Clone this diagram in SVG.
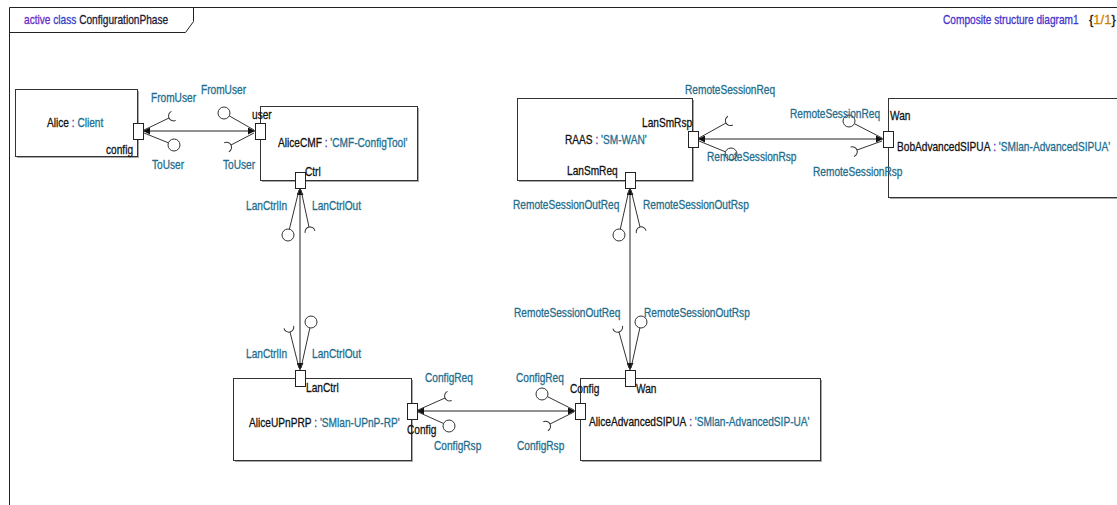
<svg xmlns="http://www.w3.org/2000/svg" xmlns:xlink="http://www.w3.org/1999/xlink" width="1117" height="505" viewBox="0 0 1117 505">
  <style>
    text { font-family: "Liberation Sans", Arial, sans-serif; font-size: 13px; stroke-width: 0.3; }
    .lbl { fill: #1f6d8c; stroke: #1f6d8c; }
    .blk { fill: #111111; stroke: #111111; }
    .sep { fill: #5533aa; stroke: #5533aa; }
    .typ { fill: #1b6f92; stroke: #1b6f92; }
    .box { fill: #ffffff; stroke: #333333; stroke-width: 1; }
    .shadow { fill: #a8a8a8; }
    .port { fill: #ffffff; stroke: #222222; stroke-width: 1; }
    .conn { stroke: #222222; stroke-width: 1; fill: none; marker-start: url(#arr); marker-end: url(#arr); }
    .stem { stroke: #333333; stroke-width: 1; fill: none; }
    .ball { stroke: #333333; stroke-width: 1; fill: #ffffff; }
    .frame { stroke: #222222; stroke-width: 1; fill: none; }
  </style>
  <defs>
    <marker id="arr" viewBox="0 0 10 10" refX="10" refY="5" markerWidth="9" markerHeight="7" markerUnits="userSpaceOnUse" orient="auto-start-reverse">
      <path d="M0,0 L10,5 L0,10 z" fill="#111111"/>
    </marker>
    <!-- required-interface socket: stem ends at origin, cup opens along +x -->
    <path id="sock" d="M5,-5 A5,5 0 0 0 5,5" fill="none" stroke="#333333" stroke-width="1"/>
  </defs>

  <rect width="1117" height="505" fill="#ffffff"/>

  <!-- diagram frame with name tab; all text is set in a condensed face (x-scale .78) -->
  <g id="frame">
    <path class="frame" d="M9.5,505 L9.5,7.5 L1117,7.5"/>
    <path class="frame" d="M9.5,32.5 L185.5,32.5 L193.5,21.5 L193.5,7.5"/>
    <text transform="translate(24,24) scale(.78,1)"><tspan fill="#6a2bc8" stroke="#6a2bc8">active</tspan> <tspan fill="#3440c8" stroke="#3440c8">class</tspan> <tspan fill="#1a1a3a" stroke="#1a1a3a">ConfigurationPhase</tspan></text>
    <text transform="translate(943,24) scale(.78,1)" fill="#4433cc" stroke="#4433cc">Composite structure diagram1</text>
    <text x="1089" y="24"><tspan fill="#111111" stroke="#111111">{</tspan><tspan fill="#d08000" stroke="#d08000">1/1</tspan><tspan fill="#111111" stroke="#111111">}</tspan></text>
  </g>

  <!-- parts -->
  <g id="alice">
    <rect class="shadow" x="17" y="91" width="122" height="67"/>
    <rect class="box" x="15.5" y="89.5" width="122" height="67"/>
    <text transform="translate(47,127) scale(.78,1)"><tspan class="blk">Alice</tspan><tspan class="sep"> : </tspan><tspan class="typ">Client</tspan></text>
  </g>

  <g id="aliceCMF">
    <rect class="shadow" x="262" y="108" width="157" height="74"/>
    <rect class="box" x="260.5" y="106.5" width="157" height="74"/>
    <text transform="translate(278,147) scale(.78,1)"><tspan class="blk">AliceCMF</tspan><tspan class="sep"> : </tspan><tspan class="typ">'CMF-ConfigTool'</tspan></text>
  </g>

  <g id="raas">
    <rect class="shadow" x="519" y="100" width="175" height="82"/>
    <rect class="box" x="517.5" y="98.5" width="175" height="82"/>
    <text transform="translate(565,144) scale(.78,1)"><tspan class="blk">RAAS</tspan><tspan class="sep"> : </tspan><tspan class="typ">'SM-WAN'</tspan></text>
  </g>

  <g id="bobAdvancedSIPUA">
    <rect class="shadow" x="890" y="100" width="230" height="99"/>
    <rect class="box" x="888.5" y="98.5" width="240" height="99"/>
    <text transform="translate(897,151) scale(.78,1)"><tspan class="blk">BobAdvancedSIPUA</tspan><tspan class="sep"> : </tspan><tspan class="typ">'SMlan-AdvancedSIPUA'</tspan></text>
  </g>

  <g id="aliceUPnPRP">
    <rect class="shadow" x="235" y="380" width="178" height="82"/>
    <rect class="box" x="233.5" y="378.5" width="178" height="82"/>
    <text transform="translate(249,427) scale(.78,1)"><tspan class="blk">AliceUPnPRP</tspan><tspan class="sep"> : </tspan><tspan class="typ">'SMlan-UPnP-RP'</tspan></text>
  </g>

  <g id="aliceAdvancedSIPUA">
    <rect class="shadow" x="582" y="380" width="240" height="82"/>
    <rect class="box" x="580.5" y="378.5" width="240" height="82"/>
    <text transform="translate(589,426) scale(.78,1)"><tspan class="blk">AliceAdvancedSIPUA</tspan><tspan class="sep"> : </tspan><tspan class="typ">'SMlan-AdvancedSIP-UA'</tspan></text>
  </g>

  <!-- connectors with provided / required interfaces -->
  <g id="connectors">
    <!-- Alice.config <-> AliceCMF.user -->
    <line class="conn" x1="143" y1="131" x2="255" y2="131"/>
    <line class="stem" x1="144" y1="130" x2="169" y2="118"/>
    <use xlink:href="#sock" transform="translate(169,118) rotate(-25)"/>
    <line class="stem" x1="144" y1="133" x2="168.4" y2="142.8"/>
    <circle class="ball" cx="174" cy="145" r="6"/>
    <line class="stem" x1="254" y1="130" x2="229.3" y2="115.9"/>
    <circle class="ball" cx="224" cy="113" r="6"/>
    <line class="stem" x1="254" y1="133" x2="231" y2="145"/>
    <use xlink:href="#sock" transform="translate(231,145) rotate(153)"/>

    <!-- AliceCMF.Ctrl <-> AliceUPnPRP.LanCtrl -->
    <line class="conn" x1="300" y1="188" x2="300" y2="370"/>
    <line class="stem" x1="299" y1="190" x2="289.4" y2="229.2"/>
    <circle class="ball" cx="288" cy="235" r="6"/>
    <line class="stem" x1="301" y1="190" x2="309" y2="227"/>
    <use xlink:href="#sock" transform="translate(309,227) rotate(78)"/>
    <line class="stem" x1="299" y1="368" x2="290" y2="332"/>
    <use xlink:href="#sock" transform="translate(290,332) rotate(-104)"/>
    <line class="stem" x1="301" y1="368" x2="309.9" y2="327.9"/>
    <circle class="ball" cx="311" cy="322" r="6"/>

    <!-- AliceUPnPRP.Config <-> AliceAdvancedSIPUA.Config -->
    <line class="conn" x1="417" y1="411" x2="575" y2="411"/>
    <line class="stem" x1="418" y1="410" x2="445" y2="398"/>
    <use xlink:href="#sock" transform="translate(445,398) rotate(-24)"/>
    <line class="stem" x1="418" y1="412" x2="443.6" y2="423.5"/>
    <circle class="ball" cx="449" cy="426" r="6"/>
    <line class="stem" x1="574" y1="410" x2="547.4" y2="396.6"/>
    <circle class="ball" cx="542" cy="394" r="6"/>
    <line class="stem" x1="574" y1="412" x2="550" y2="424"/>
    <use xlink:href="#sock" transform="translate(550,424) rotate(153)"/>

    <!-- RAAS.LanSmRsp <-> BobAdvancedSIPUA.Wan -->
    <line class="conn" x1="698" y1="139" x2="883" y2="139"/>
    <line class="stem" x1="699" y1="138" x2="726" y2="123"/>
    <use xlink:href="#sock" transform="translate(726,123) rotate(-29)"/>
    <line class="stem" x1="699" y1="141" x2="725.4" y2="151.8"/>
    <circle class="ball" cx="731" cy="154" r="6"/>
    <line class="stem" x1="882" y1="138" x2="854.4" y2="123.7"/>
    <circle class="ball" cx="849" cy="121" r="6"/>
    <line class="stem" x1="882" y1="141" x2="857" y2="150"/>
    <use xlink:href="#sock" transform="translate(857,150) rotate(160)"/>

    <!-- RAAS.LanSmReq <-> AliceAdvancedSIPUA.Wan -->
    <line class="conn" x1="630" y1="188" x2="630" y2="370"/>
    <line class="stem" x1="629" y1="190" x2="620.3" y2="229.1"/>
    <circle class="ball" cx="619" cy="235" r="6"/>
    <line class="stem" x1="631" y1="190" x2="640" y2="227"/>
    <use xlink:href="#sock" transform="translate(640,227) rotate(76)"/>
    <line class="stem" x1="629" y1="368" x2="619" y2="332"/>
    <use xlink:href="#sock" transform="translate(619,332) rotate(-106)"/>
    <line class="stem" x1="631" y1="368" x2="639.9" y2="327.9"/>
    <circle class="ball" cx="641" cy="322" r="6"/>
  </g>

  <!-- ports -->
  <g id="ports">
    <rect class="port" x="133.5" y="123.5" width="10" height="16"/>
    <rect class="port" x="255.5" y="123.5" width="10" height="16"/>
    <rect class="port" x="295.5" y="172.5" width="10" height="16"/>
    <rect class="port" x="295.5" y="370.5" width="10" height="16"/>
    <rect class="port" x="407.5" y="403.5" width="10" height="16"/>
    <rect class="port" x="575.5" y="403.5" width="10" height="16"/>
    <rect class="port" x="625.5" y="370.5" width="10" height="16"/>
    <rect class="port" x="688.5" y="131.5" width="10" height="16"/>
    <rect class="port" x="625.5" y="172.5" width="10" height="16"/>
    <rect class="port" x="883.5" y="131.5" width="10" height="16"/>
  </g>

  <!-- port names -->
  <g id="port-labels">
    <text class="blk" transform="translate(106,154) scale(.78,1)">config</text>
    <text class="blk" transform="translate(252,119) scale(.78,1)">user</text>
    <text class="blk" transform="translate(305,176) scale(.78,1)">Ctrl</text>
    <text class="blk" transform="translate(306,392) scale(.78,1)">LanCtrl</text>
    <text class="blk" transform="translate(407,434) scale(.78,1)">Config</text>
    <text class="blk" transform="translate(570,393) scale(.78,1)">Config</text>
    <text class="blk" transform="translate(636,393) scale(.78,1)">Wan</text>
    <text class="blk" transform="translate(642,127) scale(.78,1)">LanSmRsp</text>
    <text class="blk" transform="translate(567,175) scale(.78,1)">LanSmReq</text>
    <text class="blk" transform="translate(890,120) scale(.78,1)">Wan</text>
  </g>

  <!-- interface names -->
  <g id="interface-labels">
    <text class="lbl" transform="translate(151,102) scale(.78,1)">FromUser</text>
    <text class="lbl" transform="translate(201,94) scale(.78,1)">FromUser</text>
    <text class="lbl" transform="translate(152,169) scale(.78,1)">ToUser</text>
    <text class="lbl" transform="translate(223,169) scale(.78,1)">ToUser</text>

    <text class="lbl" transform="translate(246,210) scale(.78,1)">LanCtrlIn</text>
    <text class="lbl" transform="translate(312,210) scale(.78,1)">LanCtrlOut</text>
    <text class="lbl" transform="translate(246,358) scale(.78,1)">LanCtrlIn</text>
    <text class="lbl" transform="translate(312,358) scale(.78,1)">LanCtrlOut</text>

    <text class="lbl" transform="translate(425,382) scale(.78,1)">ConfigReq</text>
    <text class="lbl" transform="translate(434,450) scale(.78,1)">ConfigRsp</text>
    <text class="lbl" transform="translate(516,382) scale(.78,1)">ConfigReq</text>
    <text class="lbl" transform="translate(517,450) scale(.78,1)">ConfigRsp</text>

    <text class="lbl" transform="translate(685,94) scale(.78,1)">RemoteSessionReq</text>
    <text class="lbl" transform="translate(790,118) scale(.78,1)">RemoteSessionReq</text>
    <text class="lbl" transform="translate(707,161) scale(.78,1)">RemoteSessionRsp</text>
    <text class="lbl" transform="translate(813,176) scale(.78,1)">RemoteSessionRsp</text>

    <text class="lbl" transform="translate(513,209) scale(.78,1)">RemoteSessionOutReq</text>
    <text class="lbl" transform="translate(643,209) scale(.78,1)">RemoteSessionOutRsp</text>
    <text class="lbl" transform="translate(514,317) scale(.78,1)">RemoteSessionOutReq</text>
    <text class="lbl" transform="translate(644,317) scale(.78,1)">RemoteSessionOutRsp</text>
  </g>
</svg>
